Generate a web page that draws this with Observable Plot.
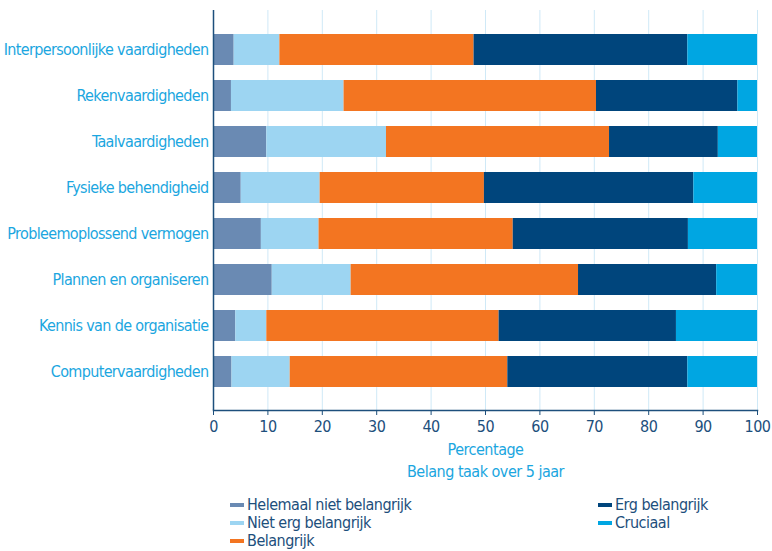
<!DOCTYPE html>
<html>
<head>
<meta charset="utf-8">
<script src="https://cdn.jsdelivr.net/npm/d3@7"></script>
<script src="https://cdn.jsdelivr.net/npm/@observablehq/plot@0.6"></script>
<style>
  body { margin: 0; background: #fff; font-family: "DejaVu Sans Condensed", sans-serif; font-stretch: condensed; }
  #chart svg { display: block; }
  #chart svg text { letter-spacing: -0.5px; }
  #chart svg g[aria-label="y-axis tick label"] text { letter-spacing: -0.65px; }
  .legend { position: relative; height: 59px; width: 772px; }
  .legend .item { position: absolute; display: flex; align-items: center; font-size: 16px; letter-spacing: -0.5px; color: #1d4f7c; line-height: 18px; height: 18px; }
  .legend .sw { width: 14px; height: 4px; margin-right: 3px; }
</style>
</head>
<body>
<div id="chart"></div>
<div class="legend" id="legend"></div>
<script>
const skills = ["Interpersoonlijke vaardigheden", "Rekenvaardigheden", "Taalvaardigheden", "Fysieke behendigheid", "Probleemoplossend vermogen", "Plannen en organiseren", "Kennis van de organisatie", "Computervaardigheden"];
const categories = ["Helemaal niet belangrijk", "Niet erg belangrijk", "Belangrijk", "Erg belangrijk", "Cruciaal"];
const helemaalNiet = [3.8, 3.3, 9.8, 5.1, 8.8, 10.8, 4.1, 3.4];
const nietErg = [8.4, 20.7, 22.0, 14.5, 10.6, 14.5, 5.7, 10.7];
const belangrijk = [35.7, 46.4, 41.0, 30.2, 35.7, 41.8, 42.7, 40.0];
const ergBelangrijk = [39.3, 26.0, 20.0, 38.5, 32.2, 25.4, 32.6, 33.1];
const cruciaal = [12.8, 3.6, 7.2, 11.7, 12.7, 7.5, 14.9, 12.8];
const xTicks = [0, 10, 20, 30, 40, 50, 60, 70, 80, 90, 100];
const colors = ["#6a8ab3", "#9dd5f2", "#f37521", "#00457c", "#00a6e2"];

const series = [helemaalNiet, nietErg, belangrijk, ergBelangrijk, cruciaal];
const table = [];
skills.forEach((s, i) => {
  categories.forEach((c, j) => {
    table.push({skill: s, category: c, value: series[j][i]});
  });
});

const navy = "#1d4f7c";
const light = "#1ba6e0";

const chart = Plot.plot({
  width: 772,
  height: 492,
  marginLeft: 213,
  marginRight: 15,
  marginTop: 10,
  marginBottom: 82,
  style: {fontFamily: '"DejaVu Sans Condensed", sans-serif', fontSize: "16px", background: "#fff"},
  x: {domain: [0, 100], ticks: xTicks},
  y: {domain: skills, paddingInner: 0.335, paddingOuter: 0.46},
  color: {domain: categories, range: colors},
  marks: [
    Plot.ruleX(xTicks, {stroke: "#cfe9f7", strokeWidth: 1}),
    Plot.barX(table, Plot.stackX({x: "value", y: "skill", fill: "category", order: null})),
    Plot.ruleX([0], {stroke: navy, strokeWidth: 1.5}),
    Plot.frame({anchor: "bottom", stroke: navy, strokeWidth: 1.5}),
    Plot.axisX({ticks: xTicks, tickSize: 5, stroke: navy, fill: navy, label: null, tickPadding: 5, fontSize: 16}),
    Plot.axisY({tickSize: 0, tickPadding: 5, fill: light, label: null, fontSize: 16}),
    Plot.text(["Percentage"], {frameAnchor: "bottom", dy: 44, fill: light, fontSize: 16}),
    Plot.text(["Belang taak over 5 jaar"], {frameAnchor: "bottom", dy: 66, fill: light, fontSize: 16})
  ]
});
document.getElementById("chart").appendChild(chart);

const legend = document.getElementById("legend");
const pos = [[230, 4], [230, 22], [230, 40], [598, 4], [598, 22]];
categories.forEach((c, i) => {
  const d = document.createElement("div");
  d.className = "item";
  d.style.left = pos[i][0] + "px";
  d.style.top = pos[i][1] + "px";
  d.innerHTML = `<span class="sw" style="background:${colors[i]}"></span><span>${c}</span>`;
  legend.appendChild(d);
});
</script>
</body>
</html>
